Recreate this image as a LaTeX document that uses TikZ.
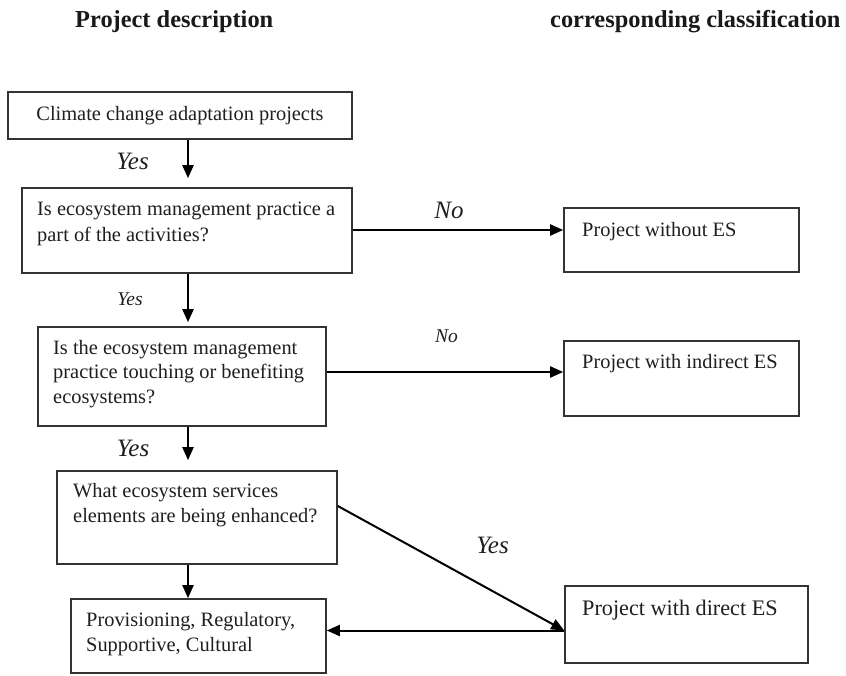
\documentclass[tikz,border=0pt]{standalone}
\usepackage{fontspec}
\setmainfont{Liberation Serif}
\usetikzlibrary{arrows.meta,calc}
\begin{document}
\begin{tikzpicture}[x=1pt,y=-1pt,
  box/.style={draw=black!80, line width=1.6pt, inner sep=0pt, rectangle},
  txt/.style={inner sep=0pt, anchor=base west, align=left, text=black!88, font=\fontsize{20.4}{25}\selectfont},
  arr/.style={draw=black, line width=2pt, -{Triangle[length=13pt,width=11pt]}},
  lab/.style={inner sep=0pt, anchor=base, text=black!88, font=\itshape\fontsize{25}{29}\selectfont},
  smalllab/.style={lab, font=\itshape\fontsize{19.5}{23}\selectfont},
  head/.style={inner sep=0pt, anchor=base west, text=black!90, font=\bfseries\fontsize{24.4}{28}\selectfont}]
\fill[white] (0,0) rectangle (846,676);
\useasboundingbox (0,0) rectangle (846,676);

% headers
\node[head] (h1) at (75,28) {Project description};
\node[head] (h2) at (550,28) {corresponding classification};

% boxes (multi-line text nodes are placed by the baseline of their last line)
\node[box, minimum width=344pt, minimum height=47pt, text=black!88, font=\fontsize{20.4}{25}\selectfont] (b1) at (180,115.5) {Climate change adaptation projects};
\node[box, minimum width=330pt, minimum height=85pt] (b2) at (187,230.5) {};
\node[txt, font=\fontsize{20.4}{26.5}\selectfont] (t2) at (37,242) {Is ecosystem management practice a\\ part of the activities?};
\node[box, minimum width=235pt, minimum height=64pt] (r1) at (681.5,240) {};
\node[txt] (tr1) at (582,237) {Project without ES};
\node[box, minimum width=288pt, minimum height=99pt] (b3) at (182,376.5) {};
\node[txt, font=\fontsize{20.4}{24.5}\selectfont] (t3) at (53,403) {Is the ecosystem management\\ practice touching or benefiting\\ ecosystems?};
\node[box, minimum width=235pt, minimum height=75pt] (r2) at (681.5,378.5) {};
\node[txt] (tr2) at (582,368) {Project with indirect ES};
\node[box, minimum width=280pt, minimum height=93pt] (b4) at (197,517.5) {};
\node[txt] (t4) at (73,522) {What ecosystem services\\ elements are being enhanced?};
\node[box, minimum width=255pt, minimum height=74pt] (b5) at (198.5,636) {};
\node[txt] (t5) at (86,651) {Provisioning, Regulatory,\\ Supportive, Cultural};
\node[box, minimum width=243pt, minimum height=77pt] (r3) at (686.5,624.5) {};
\node[txt, font=\fontsize{22.2}{26}\selectfont] (tr3) at (582,615) {Project with direct ES};

% connectors
\coordinate (col) at (188,0);
\draw[arr, shorten >=9pt] (b1.south -| col) -- (b2.north -| col);
\draw[arr, shorten >=4pt] (b2.south -| col) -- (b3.north -| col);
\draw[arr, shorten >=10pt] (b3.south -| col) -- (b4.north -| col);
\draw[arr] (b4.south -| col) -- (b5.north -| col);
\coordinate (s2) at ([yshift=0.5pt]b2.east);
\draw[arr] (s2) -- (s2 -| r1.west);
\coordinate (s3) at ([yshift=4.5pt]b3.east);
\draw[arr] (s3) -- (s3 -| r2.west);
\coordinate (s4) at ([yshift=11.5pt]b4.east);
\coordinate (m) at ([yshift=-6pt]r3.west);
\draw[arr] (s4) -- (m);
\draw[arr] (m) -- (m -| b5.east);

% labels
\node[lab] (y1) at (132.5,170) {Yes};
\node[lab] (n1) at (449,219) {No};
\node[smalllab] (y2) at (130,306) {Yes};
\node[smalllab] (n2) at (446.5,342) {No};
\node[lab] (y3) at (133,456) {Yes};
\node[lab] (y4) at (492.5,553) {Yes};
\end{tikzpicture}
\end{document}
